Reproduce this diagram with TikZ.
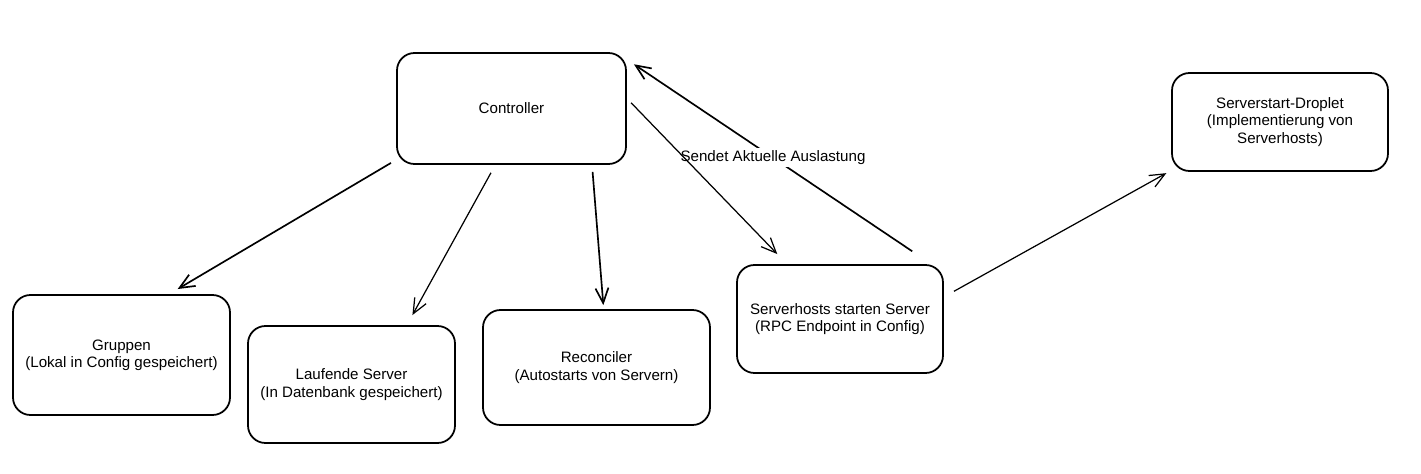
\documentclass[tikz,border=0pt]{standalone}
\usepackage{fontspec}
\setmainfont{Liberation Sans}
\usetikzlibrary{arrows.meta, positioning}

\begin{document}
\begin{tikzpicture}[
    box_style/.style={draw, line width=1pt, rounded corners=0.35cm, align=center, inner sep=0pt, font=\fontsize{8.6}{9.8}\selectfont},
    arrow_style/.style={-{Straight Barb[length=0.3cm, width=0.26cm]}, line width=0.7pt},
    heavy_arrow_style/.style={arrow_style, line width=0.95pt},
    edge_label_style/.style={fill=white, inner sep=1.5pt, font=\fontsize{8.6}{9.8}\selectfont}
]
\useasboundingbox (0,0) rectangle (28.42,9.46);

% TOP - CONTROLLER
\node[box_style, minimum width=4.58cm, minimum height=2.22cm] (ctrl) at (10.23,7.29) {Controller};

% BOTTOM ROW - PARTS OF THE CONTROLLER
\node[box_style, minimum width=4.34cm, minimum height=2.40cm] (grp) at (2.43,2.36) {Gruppen\\(Lokal in Config gespeichert)};
\node[box_style, minimum width=4.14cm, minimum height=2.34cm] (run) at (7.03,1.77) {Laufende Server\\(In Datenbank gespeichert)};
\node[box_style, minimum width=4.54cm, minimum height=2.30cm] (rec) at (11.93,2.11) {Reconciler\\(Autostarts von Servern)};
\node[box_style, minimum width=4.12cm, minimum height=2.16cm] (hosts) at (16.80,3.08) {Serverhosts starten Server\\(RPC Endpoint in Config)};

% RIGHT - DROPLET
\node[box_style, minimum width=4.32cm, minimum height=1.96cm] (drop) at (25.60,7.02) {Serverstart-Droplet\\(Implementierung von\\Serverhosts)};

% Controller -> bottom row
\draw[heavy_arrow_style, shorten <=0.12cm, shorten >=0.2cm] (ctrl.204.7) -- (grp.52.6);
\draw[arrow_style, shorten <=0.18cm, shorten >=0.23cm] (ctrl.254.9) -- (run.47.3);
\draw[heavy_arrow_style, shorten <=0.14cm, shorten >=0.08cm] (ctrl.325.6) -- (rec.83.3);

% Load report back to the controller (label covers the line)
\draw[heavy_arrow_style, shorten <=0.46cm, shorten >=0.17cm] (hosts.31.9) -- node[edge_label_style, pos=0.52] (load) {Sendet Aktuelle Auslastung} (ctrl.23.7);
\draw[arrow_style, shorten <=0.12cm, shorten >=0.28cm] (ctrl.5.3) -- (hosts.134.7);

% Serverhosts -> Droplet
\draw[arrow_style, shorten <=0.23cm, shorten >=0.11cm] (hosts.12.9) -- (drop.204.1);

\end{tikzpicture}
\end{document}
